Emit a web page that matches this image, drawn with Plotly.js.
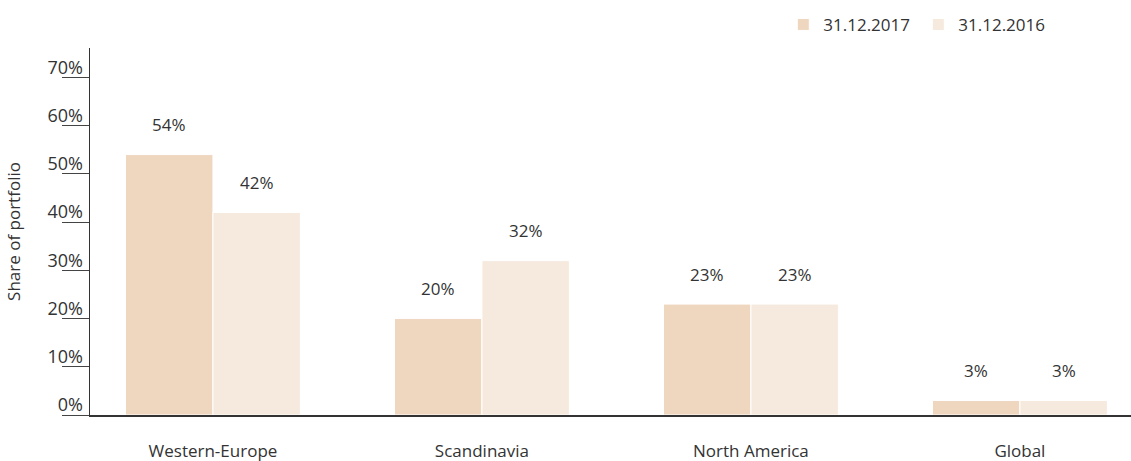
<!DOCTYPE html>
<html><head><meta charset="utf-8">
<script src="https://cdn.plot.ly/plotly-3.0.1.min.js"></script>
<style>html,body{margin:0;padding:0;background:#fff}#chart{width:1131px;height:461px}</style>
</head><body><div id="chart"></div>
<script>
var categories = ["Western-Europe", "Scandinavia", "North America", "Global"];
var series2017 = [54, 20, 23, 3];
var series2016 = [42, 32, 23, 3];
var seriesNames = ["31.12.2017", "31.12.2016"];
var tickVals = [0, 10, 20, 30, 40, 50, 60, 70];
var tickText = ["0%", "10%", "20%", "30%", "40%", "50%", "60%", "70%"];

var colors = ["#EFD6BF", "#F6E9DE"];
var yRange = [0, 76.1];
var font = "Open Sans, Noto Sans, sans-serif";
var txt = "#333333";

var traces = [
  {type: "bar", name: seriesNames[0], x: categories, y: series2017,
   marker: {color: colors[0], line: {color: "#ffffff", width: 1}}, hoverinfo: "none"},
  {type: "bar", name: seriesNames[1], x: categories, y: series2016,
   marker: {color: colors[1], line: {color: "#ffffff", width: 1}}, hoverinfo: "none"}
];

var annotations = [];
[series2017, series2016].forEach(function (s, si) {
  s.forEach(function (v, i) {
    annotations.push({
      x: categories[i], y: v, xref: "x", yref: "y",
      text: v + "%", showarrow: false, xshift: si === 0 ? -44 : 44,
      yshift: 30, yanchor: "middle",
      font: {family: font, size: 17, color: txt}
    });
  });
});

var layout = {
  width: 1131, height: 461,
  margin: {l: 90, r: 0, t: 48, b: 46},
  paper_bgcolor: "#fff", plot_bgcolor: "#fff",
  barmode: "group", bargap: 0.35, bargroupgap: 0,
  showlegend: true,
  legend: {orientation: "h", x: 0.666, xanchor: "left", y: 1.063, yanchor: "middle",
    font: {family: font, size: 17, color: txt}, traceorder: "normal",
    itemwidth: 30, entrywidth: 90, entrywidthmode: "pixels", bgcolor: "rgba(0,0,0,0)"},
  xaxis: {type: "category", range: [-0.457, 3.413], showline: true, linecolor: "#333",
    linewidth: 1.5, ticks: "", showgrid: false, zeroline: false, ticklabelstandoff: 20,
    tickfont: {family: font, size: 17, color: txt}, fixedrange: true},
  yaxis: {range: yRange, tickvals: tickVals, ticktext: tickText, showline: true,
    linecolor: "#333", linewidth: 1.5, ticks: "outside", ticklen: 27, tickcolor: "#444",
    tickwidth: 1, showgrid: false, zeroline: false,
    ticklabelstandoff: -25, ticklabelshift: -10,
    tickfont: {family: font, size: 18, color: txt},
    title: {text: "Share of portfolio", standoff: 22, font: {family: font, size: 17, color: txt}},
    fixedrange: true},
  annotations: annotations
};

Plotly.newPlot("chart", traces, layout, {displayModeBar: false, staticPlot: true});
</script></body></html>
